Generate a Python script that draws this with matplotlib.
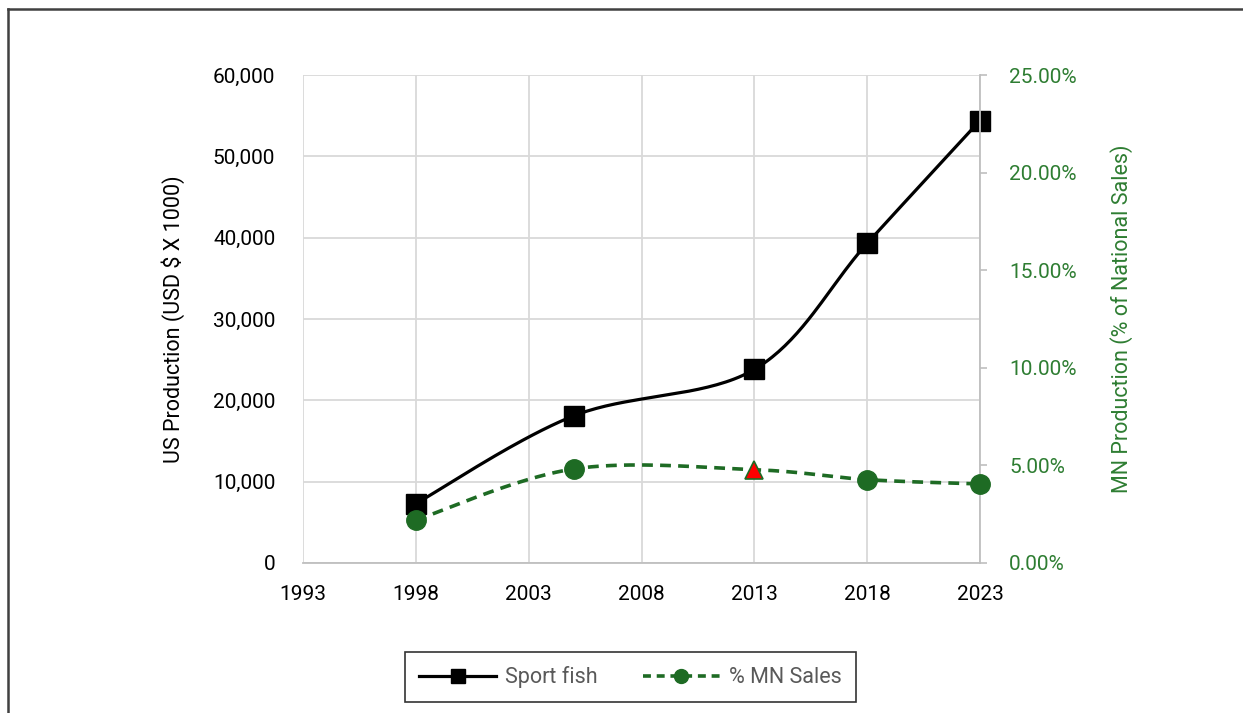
import numpy as np
import matplotlib.pyplot as plt
from matplotlib.lines import Line2D
from matplotlib.ticker import FuncFormatter

plt.rcParams['font.family'] = ['Roboto', 'DejaVu Sans']

years = [1998, 2005, 2013, 2018, 2023]
sport_fish = [7300, 18100, 23800, 39300, 54400]
mn_share = [2.2, 4.82, 4.78, 4.27, 4.05]
highlight_year = 2013

GREEN = '#1E6B24'
TICK_GREEN = '#2E7D32'
GRID = '#d9d9d9'


def smooth(x, y, n=40):
    # Catmull-Rom style smoothing between the points (like a spreadsheet "smoothed line")
    x = np.asarray(x, float)
    y = np.asarray(y, float)
    px = np.concatenate([[x[0]], x, [x[-1]]])
    py = np.concatenate([[y[0]], y, [y[-1]]])
    xs, ys = [], []
    for i in range(1, len(px) - 2):
        p0 = np.array([px[i], py[i]])
        p3 = np.array([px[i + 1], py[i + 1]])
        c1 = p0 + (p3 - np.array([px[i - 1], py[i - 1]])) / 6
        c2 = p3 - (np.array([px[i + 2], py[i + 2]]) - p0) / 6
        t = np.linspace(0, 1, n)[:, None]
        pts = ((1 - t) ** 3) * p0 + 3 * ((1 - t) ** 2) * t * c1 + 3 * (1 - t) * t ** 2 * c2 + t ** 3 * p3
        xs.extend(pts[:, 0])
        ys.extend(pts[:, 1])
    return np.array(xs), np.array(ys)


fig = plt.figure(figsize=(12.43, 7.13), dpi=100)
ax = fig.add_axes([0.2438, 0.2104, 0.5446, 0.6844])
ax2 = ax.twinx()

# left axis: sport fish production
sx, sy = smooth(years, sport_fish)
ax.plot(sx, sy, color='black', lw=2.3, zorder=3, clip_on=False)
ax.plot(years, sport_fish, ls='none', marker='s', ms=14, color='black', zorder=4, clip_on=False)
ax.set_xlim(1993, 2023)
ax.set_ylim(0, 60000)
ax.set_xticks(range(1993, 2024, 5))
ax.set_yticks(range(0, 60001, 10000))
ax.yaxis.set_major_formatter(FuncFormatter(lambda v, p: f'{int(v):,}'))
ax.grid(True, color=GRID, lw=1.3)
ax.set_axisbelow(True)
ax.tick_params(axis='both', length=0, labelsize=15)
ax.tick_params(axis='x', pad=16)
ax.tick_params(axis='y', pad=20)
for s in ['top', 'right', 'left']:
    ax.spines[s].set_visible(False)
ax.spines['bottom'].set_color('#bfbfbf')
ax.spines['bottom'].set_linewidth(1.3)
ax.set_ylabel('US Production (USD $ X 1000)', fontsize=15.5, labelpad=20)

# right axis: share of national sales
mx, my = smooth(years, mn_share)
ax2.plot(mx, my, color=GREEN, lw=2.6, ls=(0, (3, 2)), zorder=3, clip_on=False)
for yr, v in zip(years, mn_share):
    if yr == highlight_year:
        ax2.plot(yr, v, ls='none', marker='^', ms=13, color='red', mec=GREEN, mew=1.2,
                 zorder=4, clip_on=False)
    else:
        ax2.plot(yr, v, ls='none', marker='o', ms=14, color=GREEN, zorder=4, clip_on=False)
ax2.set_ylim(0, 25)
ax2.set_yticks(np.arange(0, 25.01, 5))
ax2.yaxis.set_major_formatter(FuncFormatter(lambda v, p: f'{v:.2f}%'))
ax2.tick_params(axis='y', length=5, width=1.2, color='#bfbfbf', labelsize=15,
                labelcolor=TICK_GREEN, pad=16)
for s in ['top', 'left', 'bottom']:
    ax2.spines[s].set_visible(False)
ax2.spines['right'].set_color('#bfbfbf')
ax2.spines['right'].set_linewidth(1.3)
ax2.set_ylabel('MN Production (% of National Sales)', fontsize=15.5, color=TICK_GREEN, labelpad=24)

handles = [
    Line2D([], [], color='black', lw=2.3, marker='s', ms=10),
    Line2D([], [], color=GREEN, lw=2.6, ls=(0, (2.2, 1.6)), marker='o', ms=10),
]
leg = fig.legend(handles, ['Sport fish', '% MN Sales'], loc='center', bbox_to_anchor=(0.507, 0.05),
                 ncol=2, fontsize=15.5, frameon=True, fancybox=False, edgecolor='black',
                 handlelength=3.6, handletextpad=0.4, columnspacing=2.1, borderpad=0.65,
                 borderaxespad=0)
leg.get_frame().set_linewidth(1.2)
for t in leg.get_texts():
    t.set_color('#595959')

# outer frame
fig.add_artist(Line2D([0.0068, 1.0], [0.988, 0.988], color='#404040', lw=1.8))
fig.add_artist(Line2D([0.0068, 0.0068], [0.0, 0.988], color='#404040', lw=1.8))

fig.savefig('out.png', dpi=100)
